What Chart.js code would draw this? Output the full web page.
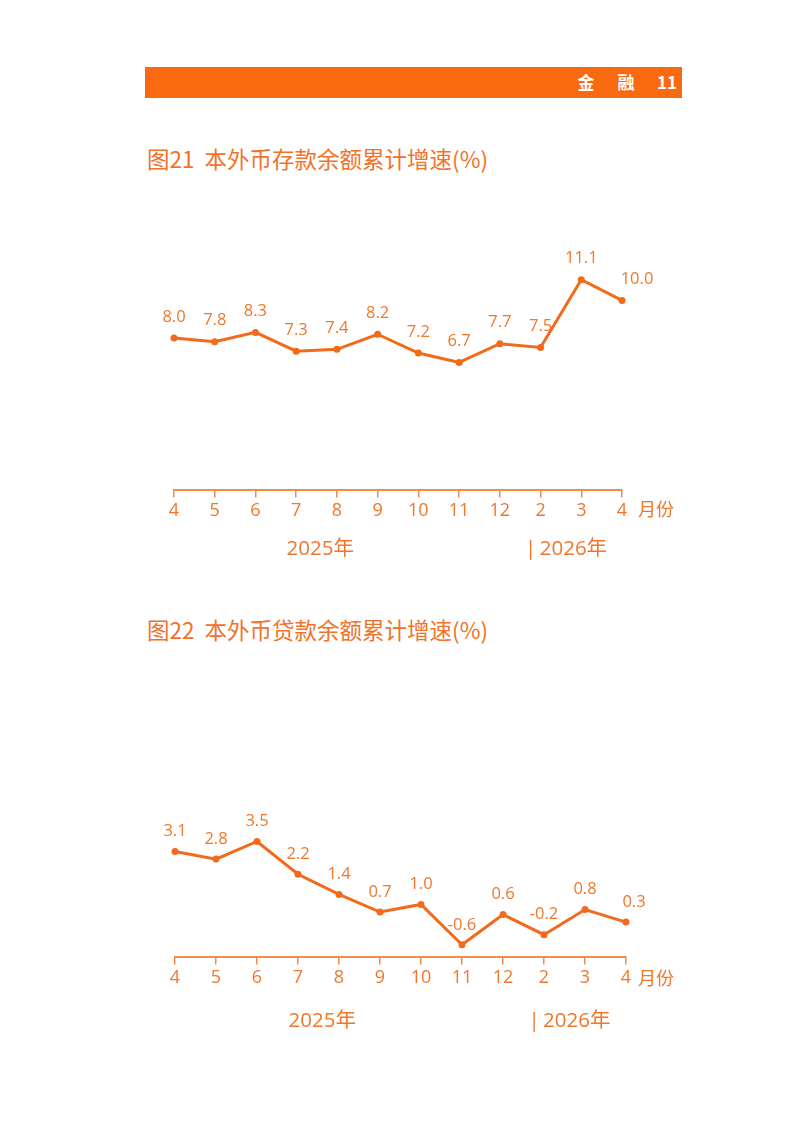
<!DOCTYPE html>
<html>
<head>
<meta charset="utf-8">
<script src="https://cdn.jsdelivr.net/npm/chart.js@4/dist/chart.umd.min.js"></script>
<style>
  body { margin: 0; background: #fff; }
  #page { position: relative; width: 794px; height: 1123px; overflow: hidden; font-family: "Noto Sans CJK SC", "Noto Sans", sans-serif; }
  .bar { position: absolute; left: 145px; top: 67px; width: 537px; height: 31px; background: #F96A10; }
  .bar span { position: absolute; top: 4px; color: #fff; font-weight: bold; font-size: 17px; line-height: 22px; transform: translateX(-50%); }
  .title { position: absolute; left: 147px; color: #F2722A; font-size: 22.5px; line-height: 26px; white-space: pre; }
  .box { position: absolute; left: 140px; width: 550px; }
</style>
</head>
<body>
<div id="page">
  <div class="bar">
    <span style="left:441px">金</span>
    <span style="left:481px">融</span>
    <span style="left:522px">11</span>
  </div>
  <div class="title" style="top:145px">图21  本外币存款余额累计增速(%)</div>
  <div class="title" style="top:616px">图22  本外币贷款余额累计增速(%)</div>
  <div class="box" style="top:170px;height:400px"><canvas id="c1"></canvas></div>
  <div class="box" style="top:640px;height:410px"><canvas id="c2"></canvas></div>
</div>
<script>
// months: 2025-04 .. 2026-04 (no January)
const months = ['4', '5', '6', '7', '8', '9', '10', '11', '12', '2', '3', '4'];
const depositGrowth = [8.0, 7.8, 8.3, 7.3, 7.4, 8.2, 7.2, 6.7, 7.7, 7.5, 11.1, 10.0];
const loanGrowth = [3.1, 2.8, 3.5, 2.2, 1.4, 0.7, 1.0, -0.6, 0.6, -0.2, 0.8, 0.3];
const yearLabels = ['2025年', '|\u20092026年'];

const FONT = '"Open Sans", "Noto Sans CJK SC", sans-serif';
const LINE = '#F26A1B';
const TEXT = '#F0772A';
const AXIS = '#EF8C4E';

// point labels + unit + year captions
const extras = {
  id: 'extras',
  afterDatasetsDraw(chart, args, opts) {
    const ctx = chart.ctx;
    const meta = chart.getDatasetMeta(0);
    const vals = chart.data.datasets[0].data;
    ctx.save();
    ctx.fillStyle = TEXT;
    ctx.font = '16.5px ' + FONT;
    ctx.textAlign = 'center';
    ctx.textBaseline = 'middle';
    meta.data.forEach((pt, i) => {
      const dx = i === vals.length - 1 ? opts.lastDx : 0;
      ctx.fillText(vals[i].toFixed(1), pt.x + dx, pt.y - opts.labelGap);
    });
    const area = chart.chartArea;
    const x = chart.scales.x;
    ctx.font = '18px ' + FONT;
    ctx.fillText('月份', area.right + opts.unitDx, area.bottom + opts.tickDy);
    ctx.font = '20.5px ' + FONT;
    ctx.fillText(yearLabels[0], x.getPixelForValue(3.59), area.bottom + opts.yearDy);
    ctx.textAlign = 'left';
    ctx.fillText(yearLabels[1], x.getPixelForValue(8.62), area.bottom + opts.yearDy);
    ctx.restore();
  }
};

function makeChart(id, values, yMin, yMax, pad, opts) {
  return new Chart(document.getElementById(id), {
    type: 'line',
    data: {
      labels: months,
      datasets: [{
        data: values,
        borderColor: LINE,
        backgroundColor: LINE,
        borderWidth: 3,
        pointRadius: 3.5,
        pointBackgroundColor: LINE,
        pointBorderWidth: 0,
        tension: 0
      }]
    },
    options: {
      responsive: true,
      maintainAspectRatio: false,
      animation: false,
      layout: { padding: pad },
      plugins: { legend: { display: false }, tooltip: { enabled: false }, extras: opts },
      scales: {
        x: {
          offset: false,
          grid: { drawOnChartArea: false, color: AXIS, lineWidth: 1.5, tickLength: 7 },
          border: { color: AXIS, width: 2 },
          ticks: { color: TEXT, font: { size: 18, family: FONT }, padding: 3, maxRotation: 0, autoSkip: false }
        },
        y: { display: false, min: yMin, max: yMax }
      }
    },
    plugins: [extras]
  });
}

makeChart('c1', depositGrowth, -0.1, 16.4,
  { left: 34, right: 68, top: 10, bottom: 45 },
  { labelGap: 21, lastDx: 15, unitDx: 34, tickDy: 20, yearDy: 59 });
makeChart('c2', loanGrowth, -1.1, 10.7,
  { left: 35, right: 64, top: 20, bottom: 58 },
  { labelGap: 20, lastDx: 8, unitDx: 30, tickDy: 22, yearDy: 64 });
</script>
</body>
</html>
